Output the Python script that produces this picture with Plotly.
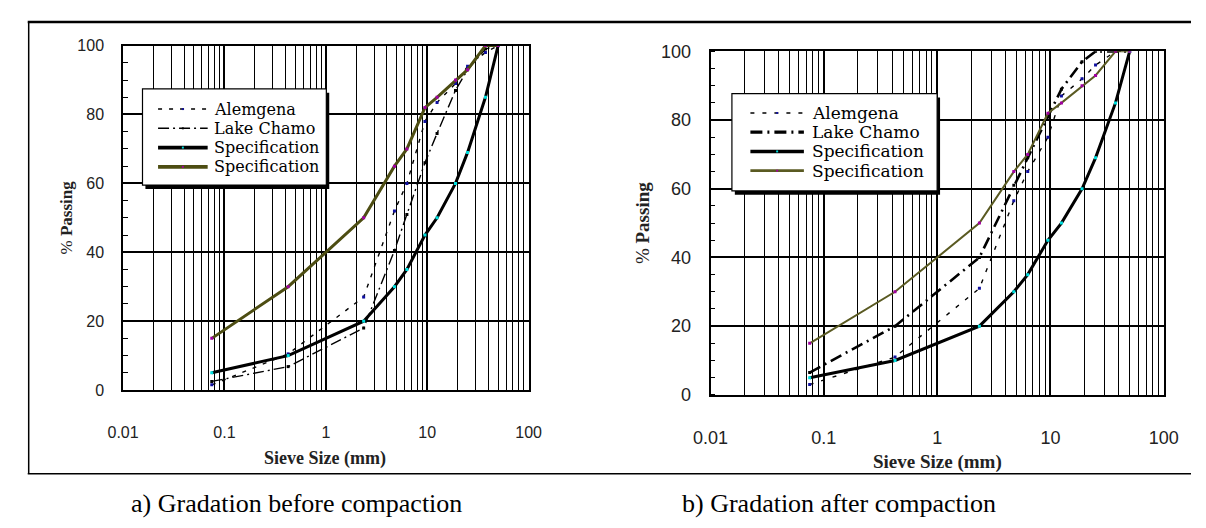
import plotly.graph_objects as go

W, H = 1206, 528

# ---------------- data ----------------
sieve_mm = [0.075, 0.425, 2.36, 4.75, 6.3, 9.5, 12.5, 19, 25, 37.5, 50]

spec_lower = [5, 10, 20, 30, 35, 45, 50, 60, 69, 85, 100]
spec_upper = [15, 30, 50, 65, 70, 82, 85, 90, 93, 100, 100]

alemgena_before = [1.5, 10.5, 27, 52, 60, 78, 83.5, 89, 94, 98, 100]
lake_chamo_before = [2.5, 6.8, 18, 40.5, 51, 66, 74.5, 87, 93, 99, 100]

alemgena_after = [3, 11, 31, 56.5, 65, 75, 87, 92, 96, 100, 100]
lake_chamo_after = [6.5, 20, 40, 61, 69, 81, 89, 97, 100, 100, 100]

series_names = ["Alemgena", "Lake Chamo", "Specification", "Specification"]
x_tick_vals = [0.01, 0.1, 1, 10, 100]
x_tick_text = ["0.01", "0.1", "1", "10", "100"]
y_tick_vals = [0, 20, 40, 60, 80, 100]
captions = ["a) Gradation before compaction", "b) Gradation after compaction"]

# ---------------- helpers ----------------
def px(x):
    return x / W

def py(y):
    return 1 - y / H

OLIVE_L = "#4d4d12"
OLIVE_R = "#5a5a22"

panels = [
    dict(ax="x", ay="y", xd=[108, 525], yd=[37, 395],
         data=[alemgena_before, lake_chamo_before, spec_lower, spec_upper],
         styles=[dict(color="black", width=1.4, dash="4px,7px", mc="#1010a0"),
                 dict(color="black", width=1.4, dash="11px,4px,2px,4px", mc="black"),
                 dict(color="black", width=3, dash="solid", mc="#00e0e0"),
                 dict(color=OLIVE_L, width=3, dash="solid", mc="#a000a0")],
         tickfont=16, titlefont=18, ytitlefont=17, legfont=16, standoff=27,
         leg=dict(x0=128, y0=82, x1=317, y1=182, lx0=144, lx1=195, tx=199,
                  rows=[103, 123, 143, 163]),
         xtitle=(316, 466), ytitle=(50, 216), cap=(286, 513)),
    dict(ax="x2", ay="y2", xd=[712, 1178], yd=[43, 400],
         data=[alemgena_after, lake_chamo_after, spec_lower, spec_upper],
         styles=[dict(color="black", width=1.4, dash="4px,8px", mc="#1010a0"),
                 dict(color="black", width=2.6, dash="12px,5px,2px,5px", mc="black"),
                 dict(color="black", width=3, dash="solid", mc="#00e0e0"),
                 dict(color=OLIVE_R, width=2, dash="solid", mc="#a000a0")],
         tickfont=18, titlefont=19, ytitlefont=19, legfont=17, standoff=26,
         leg=dict(x0=734, y0=87, x1=945, y1=188, lx0=753, lx1=808, tx=814,
                  rows=[107, 127, 147, 167]),
         xtitle=(945, 470), ytitle=(642, 221), cap=(844, 513)),
]

fig = go.Figure()
shapes = []
annotations = []

minor_vals = []
for dec in [0.01, 0.1, 1, 10]:
    for k in range(2, 10):
        minor_vals.append(round(dec * k, 6))

layout_axes = {}
for i, p in enumerate(panels):
    for name, vals, st in zip(series_names, p["data"], p["styles"]):
        fig.add_trace(go.Scatter(
            x=sieve_mm, y=vals, name=name, mode="lines+markers",
            xaxis=p["ax"], yaxis=p["ay"], showlegend=False,
            line=dict(color=st["color"], width=st["width"], dash=st["dash"]),
            marker=dict(size=3, color=st["mc"], symbol="square"),
        ))
    xk = "xaxis" if i == 0 else "xaxis2"
    yk = "yaxis" if i == 0 else "yaxis2"
    layout_axes[xk] = dict(
        type="log", range=[-2, 2],
        domain=[px(p["xd"][0]), px(p["xd"][1])],
        anchor=p["ay"], tickmode="array", tickvals=x_tick_vals, ticktext=x_tick_text,
        ticks="", ticklabelstandoff=p["standoff"],
        showgrid=True, gridcolor="black", gridwidth=1.6,
        minor=dict(tickmode="array", tickvals=minor_vals, showgrid=True,
                   gridcolor="black", gridwidth=1.3, ticks=""),
        showline=True, mirror=True, linecolor="black", linewidth=1.6,
        tickfont=dict(family="Liberation Sans", size=p["tickfont"], color="#222"),
        zeroline=False,
    )
    layout_axes[yk] = dict(
        range=[0, 100], domain=[py(p["yd"][1]), py(p["yd"][0])],
        anchor=p["ax"], tickmode="array", tickvals=y_tick_vals,
        ticks="", ticklabelstandoff=14,
        showgrid=True, gridcolor="black", gridwidth=1.6,
        minor=dict(dtick=5, ticks="inside", ticklen=5, tickcolor="black",
                   tickwidth=1.3, showgrid=False),
        showline=True, mirror=True, linecolor="black", linewidth=1.6,
        tickfont=dict(family="Liberation Sans", size=p["tickfont"], color="#222"),
        zeroline=False,
    )

    # axis titles
    annotations.append(dict(
        x=px(p["xtitle"][0]), y=py(p["xtitle"][1]), xref="paper", yref="paper",
        text="<b>Sieve Size (mm)</b>", showarrow=False, xanchor="center", yanchor="middle",
        font=dict(family="Liberation Serif", size=p["titlefont"], color="#222")))
    annotations.append(dict(
        x=px(p["ytitle"][0]), y=py(p["ytitle"][1]), xref="paper", yref="paper",
        text="% <b>Passing</b>", showarrow=False, textangle=-90,
        xanchor="center", yanchor="middle",
        font=dict(family="Liberation Serif", size=p["ytitlefont"], color="#222")))
    # caption
    annotations.append(dict(
        x=px(p["cap"][0]), y=py(p["cap"][1]), xref="paper", yref="paper",
        text=captions[i], showarrow=False, xanchor="center", yanchor="middle",
        font=dict(family="Liberation Serif", size=26, color="black")))

    # legend box with shadow
    L = p["leg"]
    shapes.append(dict(type="rect", xref="paper", yref="paper",
                       x0=px(L["x0"] + 3), x1=px(L["x1"] + 3),
                       y0=py(L["y1"] + 4), y1=py(L["y0"] + 4),
                       fillcolor="black", line=dict(width=0)))
    shapes.append(dict(type="rect", xref="paper", yref="paper",
                       x0=px(L["x0"]), x1=px(L["x1"]), y0=py(L["y1"]), y1=py(L["y0"]),
                       fillcolor="white", line=dict(color="black", width=1.2)))
    for name, st, ry in zip(series_names, p["styles"], L["rows"]):
        lw = st["width"] if st["width"] >= 2 else 1.5
        shapes.append(dict(type="line", xref="paper", yref="paper",
                           x0=px(L["lx0"]), x1=px(L["lx1"]), y0=py(ry), y1=py(ry),
                           line=dict(color=st["color"], width=lw + (0.6 if lw >= 2 else 0),
                                     dash=st["dash"])))
        cx = (L["lx0"] + L["lx1"]) / 2
        shapes.append(dict(type="rect", xref="paper", yref="paper",
                           x0=px(cx - 1), x1=px(cx + 1), y0=py(ry + 1), y1=py(ry - 1),
                           fillcolor=st["mc"], line=dict(width=0)))
        annotations.append(dict(
            x=px(L["tx"]), y=py(ry), xref="paper", yref="paper", text=name,
            showarrow=False, xanchor="left", yanchor="middle",
            font=dict(family="DejaVu Serif", size=p["legfont"], color="black")))

# outer frame
shapes.append(dict(type="line", xref="paper", yref="paper", x0=px(10), x1=1,
                   y0=py(12.5), y1=py(12.5), line=dict(color="black", width=2.5)))
shapes.append(dict(type="line", xref="paper", yref="paper", x0=px(11), x1=px(11),
                   y0=py(12.5), y1=py(482), line=dict(color="black", width=1.5)))
shapes.append(dict(type="line", xref="paper", yref="paper", x0=px(10), x1=1,
                   y0=py(482), y1=py(482), line=dict(color="black", width=1.5)))

fig.update_layout(
    width=W, height=H, margin=dict(l=0, r=0, t=0, b=0),
    paper_bgcolor="white", plot_bgcolor="white",
    showlegend=False, shapes=shapes, annotations=annotations,
    **layout_axes,
)

fig.write_html(
    "out.html",
    config={"displayModeBar": False},
    post_script="document.body.style.margin='0';document.body.style.overflow='hidden';",
)
